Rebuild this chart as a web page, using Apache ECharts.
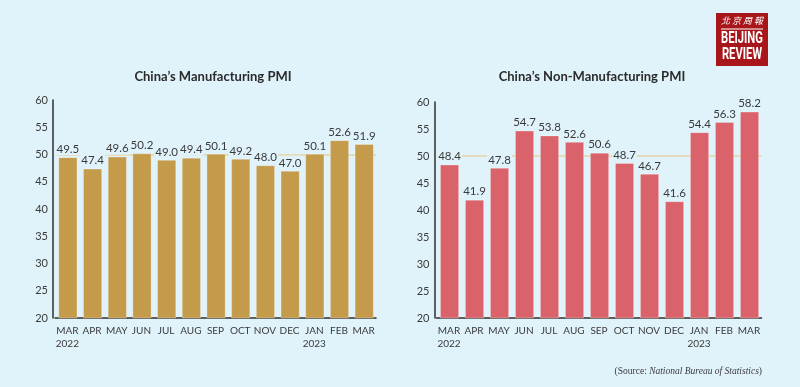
<!DOCTYPE html>
<html>
<head>
<meta charset="utf-8">
<script src="https://cdn.jsdelivr.net/npm/echarts@6/dist/echarts.min.js"></script>
<style>
html,body{margin:0;padding:0;background:#E0F3FB;}
#c{width:800px;height:387px;}
</style>
</head>
<body>
<div id="c"></div>
<script>
const months = ['MAR\n2022','APR','MAY','JUN','JUL','AUG','SEP','OCT','NOV','DEC','JAN\n2023','FEB','MAR'];
const manufacturingPMI = [49.5, 47.4, 49.6, 50.2, 49.0, 49.4, 50.1, 49.2, 48.0, 47.0, 50.1, 52.6, 51.9];
const nonManufacturingPMI = [48.4, 41.9, 47.8, 54.7, 53.8, 52.6, 50.6, 48.7, 46.7, 41.6, 54.4, 56.3, 58.2];
const yTicks = {min: 20, max: 60, interval: 5};
const threshold = 50;

const BG = '#E0F3FB';
const chart = echarts.init(document.getElementById('c'), null, {renderer: 'canvas'});

function xAxisCfg(gi) {
  return {
    type: 'category', gridIndex: gi, data: months, boundaryGap: true,
    axisLine: {lineStyle: {color: '#2f2f2f', width: 1.5}},
    axisTick: {show: false},
    axisLabel: {color: '#3a3a3a', fontSize: 10, fontFamily: 'Lato', lineHeight: 13, interval: 0, margin: 6}
  };
}
function yAxisCfg(gi) {
  return {
    type: 'value', gridIndex: gi, min: yTicks.min, max: yTicks.max, interval: yTicks.interval, offset: 2,
    axisLine: {show: true, lineStyle: {color: '#2f2f2f', width: 1.5}},
    axisTick: {show: false},
    splitLine: {show: false},
    axisLabel: {color: '#3a3a3a', fontSize: 11, fontFamily: 'Lato', margin: 5}
  };
}
function barSeries(idx, data, color) {
  return {
    type: 'bar', xAxisIndex: idx, yAxisIndex: idx, data: data, barWidth: 19, z: 3,
    itemStyle: {color: color, borderColor: 'rgba(255,255,255,0.35)', borderWidth: 0.8},
    label: {
      show: true, position: 'top', distance: 2, color: '#3a3a3a', fontSize: 11.5, fontFamily: 'Lato',
      backgroundColor: BG, padding: [1, 1, 0, 1],
      formatter: p => p.value.toFixed(1)
    }
  };
}
function refLine(idx) {
  return {
    type: 'bar', xAxisIndex: idx, yAxisIndex: idx, data: [], z: 1, silent: true,
    markLine: {
      silent: true, symbol: 'none', z: 1,
      label: {show: false},
      lineStyle: {color: '#E3D5A6', width: 1.5, type: 'solid'},
      data: [{yAxis: threshold}]
    }
  };
}

chart.setOption({
  backgroundColor: BG,
  animation: false,
  title: [
    {text: "China\u2019s Manufacturing PMI", left: 208, top: 65, textAlign: 'center',
     textStyle: {fontFamily: 'Lato', fontWeight: 'bold', fontSize: 13, color: '#2b2b2b'}},
    {text: "China\u2019s Non-Manufacturing PMI", left: 587, top: 65, textAlign: 'center',
     textStyle: {fontFamily: 'Lato', fontWeight: 'bold', fontSize: 13, color: '#2b2b2b'}}
  ],
  grid: [
    {left: 55, width: 321, top: 100, height: 218},
    {left: 436.5, width: 325, top: 102, height: 216}
  ],
  xAxis: [xAxisCfg(0), xAxisCfg(1)],
  yAxis: [yAxisCfg(0), yAxisCfg(1)],
  series: [
    refLine(0), refLine(1),
    barSeries(0, manufacturingPMI, '#C49A4B'),
    barSeries(1, nonManufacturingPMI, '#DA636B')
  ],
  graphic: [
    {type: 'group', x: 716, y: 13, children: [
      {type: 'rect', shape: {x: 0, y: 0, width: 52, height: 53}, style: {fill: '#A8161B'}},
      {type: 'text', style: {x: 26, y: 3, text: '北 京 周 報', fill: '#fff', font: 'italic 9px "Noto Sans CJK TC"', textAlign: 'center'}},
      {type: 'rect', shape: {x: 5, y: 15.5, width: 42, height: 1}, style: {fill: '#fff'}},
      {type: 'group', x: 26, y: 17, scaleX: 0.66, children: [
        {type: 'text', style: {x: 0, y: 0, text: 'BEIJING', fill: '#fff', font: 'bold 17px Roboto', textAlign: 'center'}},
        {type: 'text', style: {x: 0, y: 16, text: 'REVIEW', fill: '#fff', font: 'bold 17px Roboto', textAlign: 'center'}}
      ]}
    ]},
    {type: 'text', right: 38, top: 366, style: {
      text: '{a|(Source: }{b|National Bureau of Statistics}{a|)}',
      rich: {
        a: {fontFamily: 'Liberation Serif', fontSize: 9.5, fill: '#3a3a3a', color: '#3a3a3a'},
        b: {fontFamily: 'Liberation Serif', fontSize: 9.5, fontStyle: 'italic', fill: '#3a3a3a', color: '#3a3a3a'}
      }
    }}
  ]
});
</script>
</body>
</html>
